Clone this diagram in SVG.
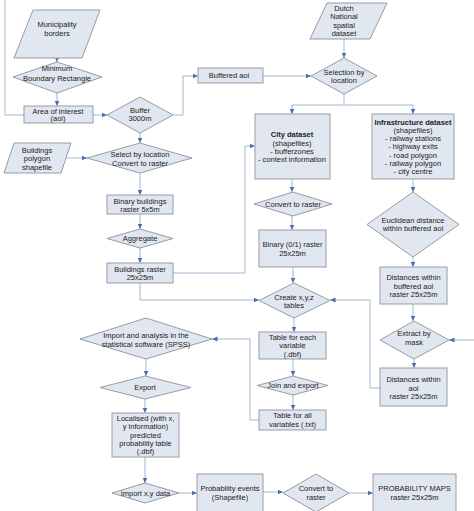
<svg xmlns="http://www.w3.org/2000/svg" width="474" height="511" viewBox="0 0 474 511">
<defs>
<marker id="ah" markerUnits="userSpaceOnUse" markerWidth="6" markerHeight="6" refX="5.5" refY="3" orient="auto">
<path d="M0,0.5 L5.5,3 L0,5.5 z" fill="#4a6fb0"/>
</marker>
</defs>
<style>
.n{fill:#e1e7f0;stroke:#979ca3;stroke-width:1}
.c{fill:none;stroke:#a3b5d0;stroke-width:1}
.a{marker-end:url(#ah)}
text{font-family:"Liberation Sans",Arial,sans-serif;font-size:7.5px;fill:#222;text-anchor:middle}
.b{font-weight:bold}
</style>
<rect width="474" height="511" fill="#ffffff"/>
<g id="connectors">
<path class="c" d="M5,0 V115 H24"/>
<path class="c a" d="M57,58 V62"/>
<path class="c a" d="M57,93 V106"/>
<path class="c a" d="M93,115 H107"/>
<path class="c a" d="M173,115 H183 V76 H198"/>
<path class="c a" d="M263,76 H311"/>
<path class="c a" d="M344,39 V58"/>
<path class="c" d="M344,94 V105 M292,105 H413"/>
<path class="c a" d="M292,105 V114"/>
<path class="c a" d="M413,105 V114"/>
<path class="c a" d="M140,133 V143"/>
<path class="c a" d="M67,158 H87"/>
<path class="c a" d="M140,173 V195"/>
<path class="c a" d="M140,214 V229"/>
<path class="c a" d="M140,248 V263"/>
<path class="c a" d="M173,273 H245 V146 H255"/>
<path class="c a" d="M140,283 V300 H259"/>
<path class="c a" d="M292,179 V192"/>
<path class="c a" d="M292,216 V230"/>
<path class="c a" d="M293,267 V283"/>
<path class="c a" d="M413,179 V192"/>
<path class="c a" d="M413,257 V267"/>
<path class="c a" d="M413,304 V321"/>
<path class="c a" d="M474,340 H449"/>
<path class="c a" d="M414,359 V368"/>
<path class="c a" d="M380,388 H370 V300 H330"/>
<path class="c a" d="M294,318 V332"/>
<path class="c a" d="M293,359 V376"/>
<path class="c a" d="M293,395 V410"/>
<path class="c a" d="M259,420 H250 V339 H212"/>
<path class="c a" d="M146,359 V376"/>
<path class="c a" d="M145,399 V413"/>
<path class="c a" d="M145,457 V483"/>
<path class="c a" d="M179,493 H197"/>
<path class="c a" d="M263,492 H283"/>
<path class="c a" d="M349,493 H373"/>
</g>
<g id="municipality">
<polygon class="n" points="33,10 100,10 82,58 14,58"/>
<text x="57"><tspan x="57" y="26.7">Municipality</tspan><tspan x="57" y="35.7">borders</tspan></text>
</g>
<g id="mbr">
<polygon class="n" points="57,62 102,77 57,93 13,77"/>
<text><tspan x="57" y="70.7">Minimum</tspan><tspan x="57" y="80.7">Boundary Rectangle</tspan></text>
</g>
<g id="aoi">
<rect class="n" x="24" y="106" width="69" height="17"/>
<text><tspan x="58" y="113.7">Area of interest</tspan><tspan x="58" y="121.2">(aoi)</tspan></text>
</g>
<g id="buffer">
<polygon class="n" points="140,97 173,115 140,133 107,115"/>
<text><tspan x="140" y="112.7">Buffer</tspan><tspan x="140" y="121.2">3000m</tspan></text>
</g>
<g id="buffered-aoi">
<rect class="n" x="198" y="68" width="65" height="15"/>
<text x="229" y="78.4">Buffered aoi</text>
</g>
<g id="dutch">
<polygon class="n" points="327,3 387,3 370,39 310,39"/>
<text><tspan x="344" y="10.7">Dutch</tspan><tspan x="344" y="19.2">National</tspan><tspan x="344" y="27.7">spatial</tspan><tspan x="344" y="36">dataset</tspan></text>
</g>
<g id="selection">
<polygon class="n" points="344,58 377,76 344,94 311,76"/>
<text><tspan x="344" y="74.7">Selection by</tspan><tspan x="344" y="83">location</tspan></text>
</g>
<g id="city">
<rect class="n" x="255" y="114" width="75" height="65"/>
<text><tspan class="b" x="292" y="136.7">City dataset</tspan><tspan x="292" y="145.5">(shapefiles)</tspan><tspan x="292" y="154">- bufferzones</tspan><tspan x="292" y="162.3">-  context information</tspan></text>
</g>
<g id="infra">
<rect class="n" x="372" y="114" width="82" height="65"/>
<text><tspan class="b" x="413" y="124.7">Infrastructure dataset</tspan><tspan x="413" y="132.6">(shapefiles)</tspan><tspan x="413" y="141">- railway stations</tspan><tspan x="413" y="149.4">- highway exits</tspan><tspan x="413" y="157.7">-  road polygon</tspan><tspan x="413" y="166">- railway polygon</tspan><tspan x="413" y="174.4">- city centre</tspan></text>
</g>
<g id="buildings-shp">
<polygon class="n" points="14,143 71,143 61,173 4,173"/>
<text><tspan x="37" y="152.7">Buildings</tspan><tspan x="37" y="161">polygon</tspan><tspan x="37" y="169.5">shapefile</tspan></text>
</g>
<g id="select-convert">
<polygon class="n" points="140,143 192,158 140,173 87,158"/>
<text><tspan x="140" y="156.7">Select by location</tspan><tspan x="140" y="165.5">Convert to raster</tspan></text>
</g>
<g id="binary-buildings">
<rect class="n" x="107" y="195" width="66" height="19"/>
<text><tspan x="140" y="203.5">Binary buildings</tspan><tspan x="140" y="211.7">raster 5x5m</tspan></text>
</g>
<g id="aggregate">
<polygon class="n" points="140,229 173,238.5 140,248 107,238.5"/>
<text x="140" y="241.3">Aggregate</text>
</g>
<g id="buildings-raster">
<rect class="n" x="107" y="263" width="66" height="20"/>
<text><tspan x="140" y="271.5">Buildings raster</tspan><tspan x="140" y="279.7">25x25m</tspan></text>
</g>
<g id="convert-city">
<polygon class="n" points="293,192 332,204 293,216 254,204"/>
<text x="293" y="206.7">Convert to raster</text>
</g>
<g id="binary01">
<rect class="n" x="259" y="230" width="67" height="37"/>
<text><tspan x="292.5" y="246.5">Binary (0/1) raster</tspan><tspan x="292.5" y="255.5">25x25m</tspan></text>
</g>
<g id="euclidean">
<polygon class="n" points="413,192 459,224.5 413,257 367,224.5"/>
<text><tspan x="413" y="222.7">Euclidean distance</tspan><tspan x="413" y="230.9">within buffered aoi</tspan></text>
</g>
<g id="dist-buffered">
<rect class="n" x="380" y="267" width="67" height="37"/>
<text><tspan x="413.5" y="279.7">Distances within</tspan><tspan x="413.5" y="288.5">buffered aoi</tspan><tspan x="413.5" y="296.8">raster 25x25m</tspan></text>
</g>
<g id="extract">
<polygon class="n" points="414,321 449,340 414,359 380,340"/>
<text><tspan x="414" y="335.7">Extract by</tspan><tspan x="414" y="344.5">mask</tspan></text>
</g>
<g id="dist-aoi">
<rect class="n" x="380" y="368" width="67" height="38"/>
<text><tspan x="413.5" y="381.7">Distances within</tspan><tspan x="413.5" y="390.5">aoi</tspan><tspan x="413.5" y="398.8">raster 25x25m</tspan></text>
</g>
<g id="create">
<polygon class="n" points="294,283 330,300.5 294,318 259,300.5"/>
<text><tspan x="294" y="299.7">Create x,y,z</tspan><tspan x="294" y="308">tables</tspan></text>
</g>
<g id="table-each">
<rect class="n" x="259" y="332" width="67" height="27"/>
<text><tspan x="292.5" y="339.7">Table for each</tspan><tspan x="292.5" y="348.4">variable</tspan><tspan x="292.5" y="356.7">(.dbf)</tspan></text>
</g>
<g id="join">
<polygon class="n" points="293,376 328,385.5 293,395 257,385.5"/>
<text x="293" y="388.4">Join and export</text>
</g>
<g id="table-all">
<rect class="n" x="259" y="410" width="67" height="20"/>
<text><tspan x="292.5" y="418.4">Table for all</tspan><tspan x="292.5" y="427.2">variables (.txt)</tspan></text>
</g>
<g id="spss">
<polygon class="n" points="146,318 212,339 146,359 80,339"/>
<text><tspan x="146" y="337.7">Import and analysis in the</tspan><tspan x="146" y="346.5">statistical software (SPSS)</tspan></text>
</g>
<g id="export">
<polygon class="n" points="145,376 191,387.5 145,399 100,387.5"/>
<text x="145" y="390.2">Export</text>
</g>
<g id="localised">
<rect class="n" x="112" y="413" width="67" height="44"/>
<text><tspan x="145.5" y="420.7">Localised (with x,</tspan><tspan x="145.5" y="429.2">y information)</tspan><tspan x="145.5" y="437.5">predicted</tspan><tspan x="145.5" y="445.8">probability table</tspan><tspan x="145.5" y="454.3">(.dbf)</tspan></text>
</g>
<g id="import-xy">
<polygon class="n" points="145,483 179,493 145,503 112,493"/>
<text x="145.5" y="495.7">Import x,y data</text>
</g>
<g id="prob-events">
<rect class="n" x="197" y="474" width="66" height="40"/>
<text><tspan x="230" y="490.7">Probability events</tspan><tspan x="230" y="499.5">(Shapefile)</tspan></text>
</g>
<g id="convert-final">
<polygon class="n" points="316,474 349,493 316,512 283,493"/>
<text><tspan x="316" y="490.7">Convert to</tspan><tspan x="316" y="499.5">raster</tspan></text>
</g>
<g id="prob-maps">
<rect class="n" x="373" y="474" width="83" height="40"/>
<text><tspan x="414.5" y="490.7">PROBABILITY MAPS</tspan><tspan x="414.5" y="499.5">raster 25x25m</tspan></text>
</g>
</svg>
